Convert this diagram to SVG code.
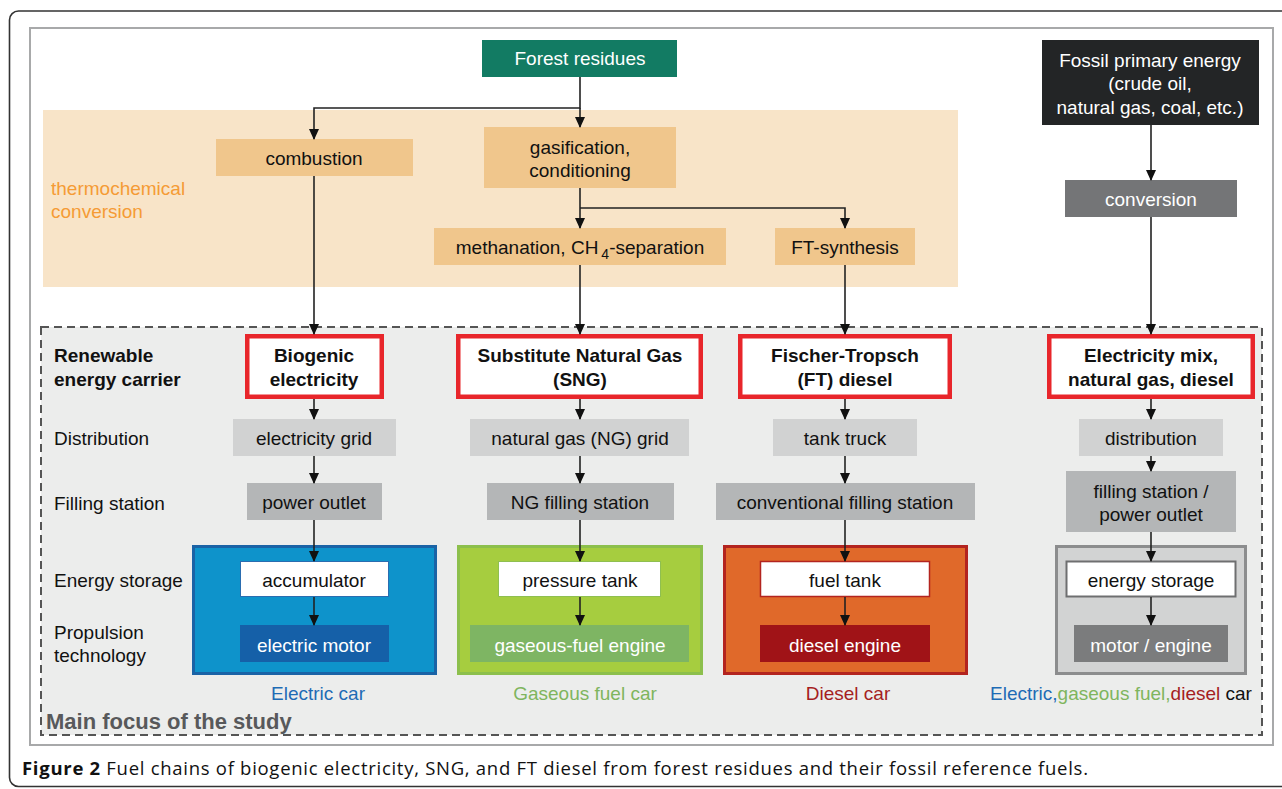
<svg xmlns="http://www.w3.org/2000/svg" width="1282" height="789" viewBox="0 0 1282 789">
<defs>
<marker id="ah" markerUnits="userSpaceOnUse" markerWidth="12" markerHeight="14" refX="10" refY="5" orient="auto">
<path d="M0,0 L11,5 L0,10 Z" fill="#111"/>
</marker>
<style>
text{font-family:"Liberation Sans",Arial,sans-serif;font-size:19px;fill:#111;}
.c{text-anchor:middle;}
.w{fill:#fff;}
.b{font-weight:bold;}
.orgbox{fill:#F0C68C;}
.dist{fill:#D1D2D2;}
.fill{fill:#B4B6B7;}
.red{fill:#fff;stroke:#E8262B;stroke-width:4.5;}
.con path{fill:none;stroke:#222;stroke-width:1.6;}
.con .a{marker-end:url(#ah);}
</style>
</defs>
<rect x="9.5" y="11" width="1290" height="775.5" rx="9" fill="#fff" stroke="#333" stroke-width="1.6"/>
<rect x="30" y="28" width="1243" height="717" fill="#fff" stroke="#A8A9AA" stroke-width="2"/>

<g id="thermo-panel">
<rect x="43" y="110" width="915" height="177" fill="#F8E4C8"/>
<text x="51" y="195" style="fill:#F59B35">thermochemical</text>
<text x="51" y="218" style="fill:#F59B35">conversion</text>
</g>

<g id="main-focus">
<rect x="41" y="327" width="1221" height="408" fill="#ECEDEC" stroke="#555" stroke-width="2" stroke-dasharray="8,5"/>
<text x="46" y="729" class="b" style="font-size:22px;fill:#58595B">Main focus of the study</text>
</g>

<g id="row-labels">
<text x="54" y="362" class="b">Renewable</text>
<text x="54" y="386" class="b">energy carrier</text>
<text x="54" y="445">Distribution</text>
<text x="54" y="510">Filling station</text>
<text x="54" y="587">Energy storage</text>
<text x="54" y="639">Propulsion</text>
<text x="54" y="662">technology</text>
</g>

<g id="forest-residues">
<rect x="482" y="40" width="195" height="37" fill="#127B63"/>
<text x="580" y="65" class="c w">Forest residues</text>
</g>
<g id="combustion">
<rect x="216" y="139" width="197" height="37" class="orgbox"/>
<text x="314" y="164.5" class="c">combustion</text>
</g>
<g id="gasification">
<rect x="484" y="127" width="192" height="61" class="orgbox"/>
<text x="580" y="154" class="c">gasification,</text>
<text x="580" y="177" class="c">conditioning</text>
</g>
<g id="methanation">
<rect x="434" y="228" width="292" height="37" class="orgbox"/>
<text x="580" y="253.5" class="c">methanation, CH<tspan dx="3" dy="5" style="font-size:14px">4</tspan><tspan dy="-5">-separation</tspan></text>
</g>
<g id="ft-synthesis">
<rect x="775" y="228" width="140" height="37" class="orgbox"/>
<text x="845" y="253.5" class="c">FT-synthesis</text>
</g>
<g id="fossil">
<rect x="1042" y="40" width="217" height="85" fill="#232526"/>
<text x="1150" y="67" class="c w">Fossil primary energy</text>
<text x="1150" y="90" class="c w">(crude oil,</text>
<text x="1150" y="114" class="c w">natural gas, coal, etc.)</text>
</g>
<g id="conversion">
<rect x="1065" y="180" width="172" height="37" fill="#747577"/>
<text x="1151" y="206" class="c w">conversion</text>
</g>

<g id="biogenic-electricity">
<rect x="247.25" y="336.25" width="134.5" height="60.5" class="red"/>
<text x="314" y="362" class="c b">Biogenic</text>
<text x="314" y="386" class="c b">electricity</text>
</g>
<g id="sng">
<rect x="458.25" y="336.25" width="242.5" height="60.5" class="red"/>
<text x="580" y="362" class="c b">Substitute Natural Gas</text>
<text x="580" y="386" class="c b">(SNG)</text>
</g>
<g id="ft-diesel">
<rect x="740.25" y="336.25" width="209.5" height="60.5" class="red"/>
<text x="845" y="362" class="c b">Fischer-Tropsch</text>
<text x="845" y="386" class="c b">(FT) diesel</text>
</g>
<g id="fossil-carrier">
<rect x="1049.25" y="336.25" width="203.5" height="60.5" class="red"/>
<text x="1151" y="362" class="c b">Electricity mix,</text>
<text x="1151" y="386" class="c b">natural gas, diesel</text>
</g>

<g id="electricity-grid">
<rect x="233" y="419" width="163" height="37" class="dist"/>
<text x="314" y="445" class="c">electricity grid</text>
</g>
<g id="ng-grid">
<rect x="470" y="419" width="219" height="37" class="dist"/>
<text x="580" y="445" class="c">natural gas (NG) grid</text>
</g>
<g id="tank-truck">
<rect x="773" y="419" width="144" height="37" class="dist"/>
<text x="845" y="445" class="c">tank truck</text>
</g>
<g id="distribution">
<rect x="1079" y="419" width="144" height="37" class="dist"/>
<text x="1151" y="445" class="c">distribution</text>
</g>

<g id="power-outlet">
<rect x="247" y="483" width="135" height="37" class="fill"/>
<text x="314" y="509" class="c">power outlet</text>
</g>
<g id="ng-filling">
<rect x="487" y="483" width="187" height="37" class="fill"/>
<text x="580" y="509" class="c">NG filling station</text>
</g>
<g id="conv-filling">
<rect x="716" y="483" width="259" height="37" class="fill"/>
<text x="845" y="509" class="c">conventional filling station</text>
</g>
<g id="fossil-filling">
<rect x="1066" y="471" width="170" height="61" class="fill"/>
<text x="1151" y="498" class="c">filling station /</text>
<text x="1151" y="521" class="c">power outlet</text>
</g>

<g id="electric-car">
<rect x="193.5" y="546.5" width="242" height="127" fill="#0E93CB" stroke="#1A63A6" stroke-width="3"/>
<rect x="240.5" y="561.5" width="148" height="35" fill="#fff" stroke="#2A6DB0" stroke-width="1"/>
<text x="314" y="587" class="c">accumulator</text>
<rect x="240" y="625" width="149" height="37" fill="#1560A8"/>
<text x="314" y="652" class="c w">electric motor</text>
<text x="318" y="700" class="c" style="fill:#1E6BB5">Electric car</text>
</g>
<g id="gaseous-car">
<rect x="458.5" y="546.5" width="243" height="127" fill="#A6CD3F" stroke="#8CBF4C" stroke-width="3"/>
<rect x="498.5" y="561.5" width="162" height="35" fill="#fff" stroke="#8FBF50" stroke-width="1"/>
<text x="580" y="587" class="c">pressure tank</text>
<rect x="470" y="625" width="219" height="37" fill="#7EB563"/>
<text x="580" y="652" class="c w">gaseous-fuel engine</text>
<text x="585" y="700" class="c" style="fill:#7FB55E">Gaseous fuel car</text>
</g>
<g id="diesel-car">
<rect x="724.5" y="546.5" width="242" height="127" fill="#E0692A" stroke="#B3241F" stroke-width="3"/>
<rect x="760.5" y="561.5" width="169" height="35" fill="#fff" stroke="#B3241F" stroke-width="1.5"/>
<text x="845" y="587" class="c">fuel tank</text>
<rect x="760" y="625" width="170" height="37" fill="#A01317"/>
<text x="845" y="652" class="c w">diesel engine</text>
<text x="848" y="700" class="c" style="fill:#A51E22">Diesel car</text>
</g>
<g id="fossil-car">
<rect x="1056.5" y="546.5" width="189" height="127" fill="#D2D3D3" stroke="#8C8D8E" stroke-width="3"/>
<rect x="1066.5" y="561.5" width="169" height="35" fill="#fff" stroke="#6E6F70" stroke-width="2"/>
<text x="1151" y="587" class="c">energy storage</text>
<rect x="1074" y="625" width="154" height="37" fill="#7B7C7D"/>
<text x="1151" y="652" class="c w">motor / engine</text>
<text x="990" y="700"><tspan style="fill:#1E6BB5">Electric,</tspan><tspan style="fill:#7FB55E">gaseous fuel,</tspan><tspan style="fill:#A51E22">diesel</tspan> car</text>
</g>

<g id="connectors" class="con">
<path d="M580,77 V108 H314 V139" class="a"/>
<path d="M580,108 V127" class="a"/>
<path d="M580,188 V228" class="a"/>
<path d="M580,208 H845 V228" class="a"/>
<path d="M314,176 V334" class="a"/>
<path d="M580,265 V334" class="a"/>
<path d="M845,265 V334" class="a"/>
<path d="M1151,125 V180" class="a"/>
<path d="M1151,217 V334" class="a"/>
<path d="M314,399 V419" class="a"/>
<path d="M580,399 V419" class="a"/>
<path d="M845,399 V419" class="a"/>
<path d="M1151,399 V419" class="a"/>
<path d="M314,456 V483" class="a"/>
<path d="M580,456 V483" class="a"/>
<path d="M845,456 V483" class="a"/>
<path d="M1151,456 V471" class="a"/>
<path d="M314,520 V561" class="a"/>
<path d="M580,520 V561" class="a"/>
<path d="M845,520 V561" class="a"/>
<path d="M1151,532 V561" class="a"/>
<path d="M314,597 V625" class="a"/>
<path d="M580,597 V625" class="a"/>
<path d="M845,597 V625" class="a"/>
<path d="M1151,597 V625" class="a"/>
</g>

<text x="22" y="775" textLength="1066" lengthAdjust="spacing" style="font-family:'Open Sans','Noto Sans',sans-serif;font-size:18.5px;fill:#111"><tspan style="font-weight:bold">Figure 2</tspan> Fuel chains of biogenic electricity, SNG, and FT diesel from forest residues and their fossil reference fuels.</text>
</svg>
